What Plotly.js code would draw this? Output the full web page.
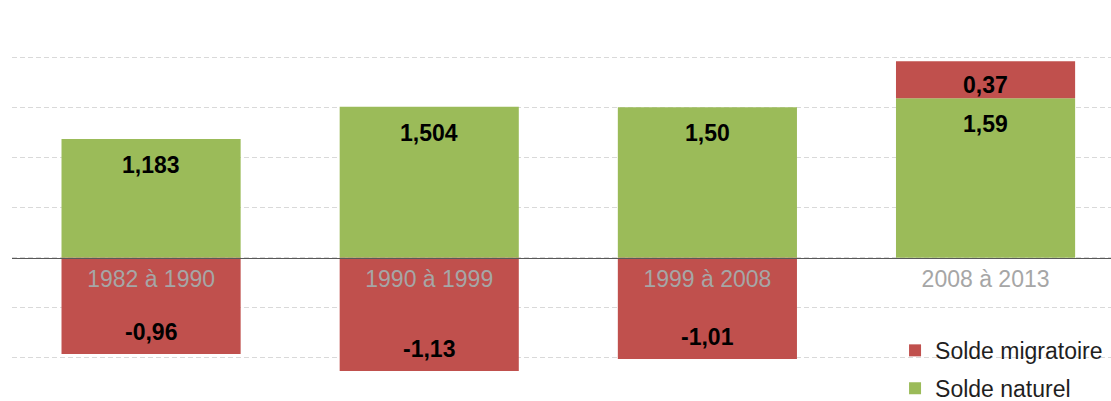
<!DOCTYPE html>
<html>
<head>
<meta charset="utf-8">
<script src="https://cdn.plot.ly/plotly-3.0.1.min.js"></script>
<style>html,body{margin:0;padding:0;background:#fff;overflow:hidden}</style>
</head>
<body>
<div id="chart" style="width:1111px;height:401px"></div>
<script>
const periods = ["1982 à 1990", "1990 à 1999", "1999 à 2008", "2008 à 2013"];
const soldeNaturel = [1.183, 1.504, 1.50, 1.59];
const soldeNaturelDecimals = [3, 3, 2, 2];
const soldeMigratoire = [-0.96, -1.13, -1.01, 0.37];
const soldeMigratoireDecimals = [2, 2, 2, 2];

const fontFam = "'Liberation Sans', Arial, sans-serif";
const green = "#9BBB59", red = "#C0504D";
const yMin = -1.43, yMax = 2.5;

function fmt(v, d) { return v.toFixed(d).replace('.', ','); }

const traces = [
  {type: 'bar', name: 'Solde naturel', x: periods, y: soldeNaturel,
   marker: {color: green}, legendgroup: 'nat', legendrank: 2, hoverinfo: 'skip'},
  {type: 'bar', name: 'Solde migratoire', x: periods, y: soldeMigratoire,
   marker: {color: red}, legendgroup: 'mig', legendrank: 1, hoverinfo: 'skip'}
];

const labelFont = {family: fontFam, size: 23, color: '#000', weight: 'bold'};
const annotations = [];
periods.forEach((p, i) => {
  const n = soldeNaturel[i];
  annotations.push({x: p, y: n, xref: 'x', yref: 'y', yanchor: n >= 0 ? 'top' : 'bottom',
    yshift: n >= 0 ? -11 : 7, showarrow: false, text: fmt(n, soldeNaturelDecimals[i]),
    font: labelFont});
  const m = soldeMigratoire[i];
  const end = m >= 0 ? Math.max(n, 0) + m : Math.min(n, 0) + m;
  annotations.push({x: p, y: end, xref: 'x', yref: 'y', yanchor: m >= 0 ? 'top' : 'bottom',
    yshift: m >= 0 ? -9 : 7, showarrow: false, text: fmt(m, soldeMigratoireDecimals[i]),
    font: labelFont});
});

const layout = {
  width: 1111, height: 401,
  margin: {l: 12, r: 0, t: 7, b: 0, autoexpand: false},
  paper_bgcolor: '#fff', plot_bgcolor: '#fff',
  barmode: 'relative', bargap: 0.356,
  font: {family: fontFam},
  xaxis: {
    type: 'category', categoryarray: periods,
    range: [-0.5, 3.451], automargin: false,
    anchor: 'free', position: (0 - yMin) / (yMax - yMin),
    showline: true, linecolor: '#595959', linewidth: 1, layer: 'above traces',
    showgrid: false, ticks: '', ticklabelstandoff: 1,
    tickfont: {family: fontFam, size: 23, color: '#A6A6A6'}
  },
  yaxis: {
    range: [yMin, yMax], dtick: 0.5, tick0: 0, automargin: false,
    showticklabels: false, ticks: '',
    showgrid: true, gridcolor: '#D9D9D9', gridwidth: 1, griddash: '5px,3px',
    zeroline: false
  },
  showlegend: true,
  legend: {
    orientation: 'v', traceorder: 'grouped', tracegroupgap: 5,
    x: 0.8035, xanchor: 'left', y: 0.183, yanchor: 'top',
    bgcolor: 'rgba(0,0,0,0)',
    font: {family: fontFam, size: 23, color: '#1F1F1F'}
  },
  annotations: annotations
};

Plotly.newPlot('chart', traces, layout, {staticPlot: true, displayModeBar: false});
</script>
</body>
</html>
